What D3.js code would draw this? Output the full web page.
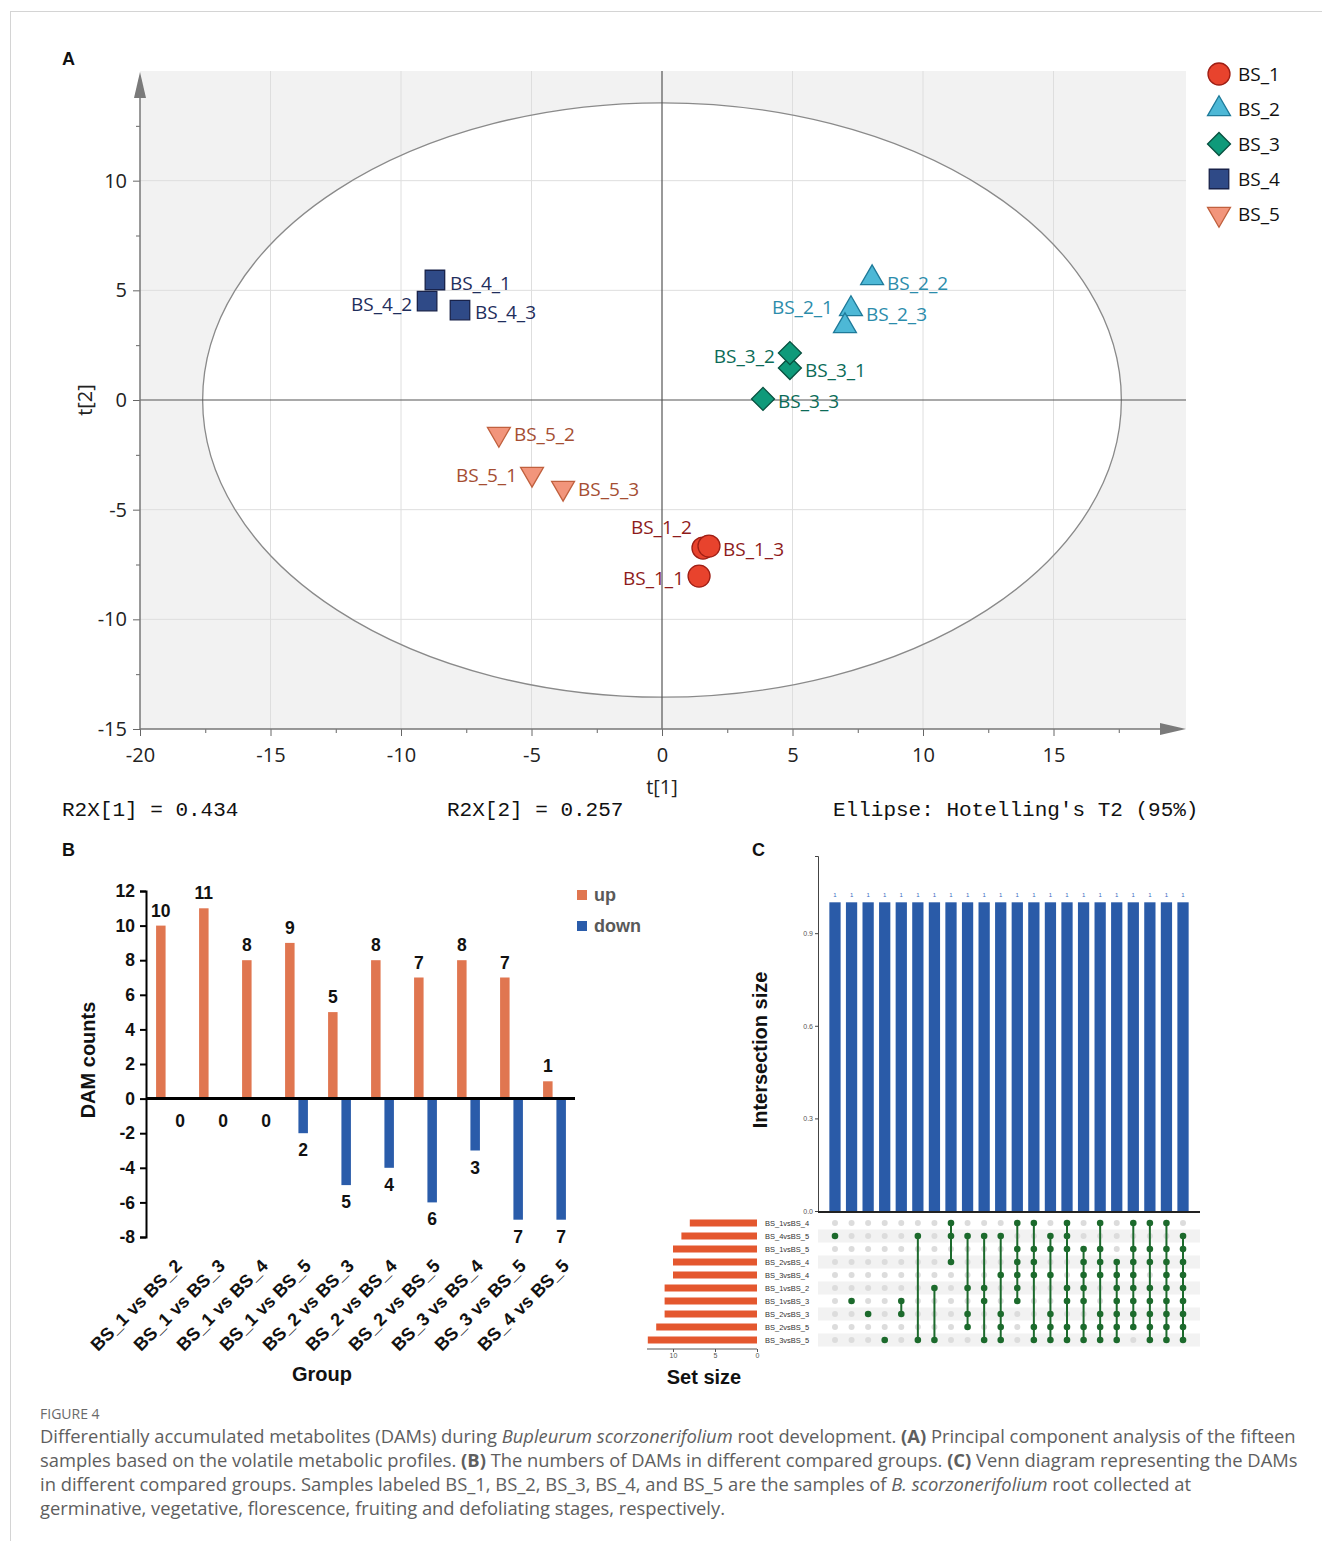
<!DOCTYPE html>
<html><head><meta charset="utf-8">
<script src="https://cdn.jsdelivr.net/npm/d3@7"></script>
<style>body{margin:0;background:#fff} svg{display:block}</style>
</head><body>
<svg id="fig" width="1322" height="1541"></svg>
<script>
// ---------- Panel A: PCA ----------
const pcaGroups = ["BS_1","BS_2","BS_3","BS_4","BS_5"];
const sampleNames = ["BS_1_1","BS_1_2","BS_1_3","BS_2_1","BS_2_2","BS_2_3","BS_3_1","BS_3_2","BS_3_3","BS_4_1","BS_4_2","BS_4_3","BS_5_1","BS_5_2","BS_5_3"];
const sampleGroups = ["BS_1","BS_1","BS_1","BS_2","BS_2","BS_2","BS_3","BS_3","BS_3","BS_4","BS_4","BS_4","BS_5","BS_5","BS_5"];
const t1Values = [1.42,1.57,1.80,7.24,8.05,7.01,4.90,4.90,3.87,-8.70,-9.00,-7.74,-4.98,-6.25,-3.79];
const t2Values = [-8.03,-6.75,-6.66,4.15,5.56,3.37,1.46,2.14,0.05,5.47,4.51,4.10,-3.37,-1.55,-4.01];
const ellipseT1 = 17.6, ellipseT2 = 13.55;
const r2x1 = "0.434", r2x2 = "0.257";
const xTicksA = [-20,-15,-10,-5,0,5,10,15];
const yTicksA = [-15,-10,-5,0,5,10];

// ---------- Panel B ----------
const comparisons = ["BS_1 vs BS_2","BS_1 vs BS_3","BS_1 vs BS_4","BS_1 vs BS_5","BS_2 vs BS_3","BS_2 vs BS_4","BS_2 vs BS_5","BS_3 vs BS_4","BS_3 vs BS_5","BS_4 vs BS_5"];
const upCounts = [10,11,8,9,5,8,7,8,7,1];
const downCounts = [0,0,0,2,5,4,6,3,7,7];
const yTicksB = [-8,-6,-4,-2,0,2,4,6,8,10,12];

// ---------- Panel C: UpSet ----------
const setNames = ["BS_1vsBS_4","BS_4vsBS_5","BS_1vsBS_5","BS_2vsBS_4","BS_3vsBS_4","BS_1vsBS_2","BS_1vsBS_3","BS_2vsBS_3","BS_2vsBS_5","BS_3vsBS_5"];
const setSizes = [8,9,10,10,10,11,11,11,12,13];
const intersectionMembers = [[1],[6],[7],[9],[6,7],[1,9],[5,9],[0,1,3],[1,5,7,8],[1,5,6,9],[1,4,7,8,9],[0,2,3,4,5,6],[0,2,3,4,8,9],[1,2,4,7,8,9],[0,1,2,5,6,8,9],[2,3,4,5,6,8,9],[0,2,3,4,7,8,9],[3,4,5,6,7,8,9],[0,2,3,4,5,6,7,8],[0,2,3,5,6,7,8,9],[0,2,3,4,5,6,7,8,9],[1,2,3,4,5,6,7,8,9]];
const intersectionSizes = [1,1,1,1,1,1,1,1,1,1,1,1,1,1,1,1,1,1,1,1,1,1];
const intersectionTicks = [0,0.3,0.6,0.9];
const setSizeTicks = [10,5,0];

// ---------- styles ----------
const groupFill = {BS_1:"#e8432d",BS_2:"#4db8d6",BS_3:"#0f9a7a",BS_4:"#2f4a87",BS_5:"#f2957b"};
const groupStroke = {BS_1:"#9e1e14",BS_2:"#1e7a99",BS_3:"#07503f",BS_4:"#18224a",BS_5:"#c0603e"};
const groupLabel = {BS_1:"#8e1b1b",BS_2:"#2b8cab",BS_3:"#0b6b57",BS_4:"#1f2e5c",BS_5:"#a54e32"};
const groupShape = {BS_1:"circle",BS_2:"tri",BS_3:"diamond",BS_4:"square",BS_5:"down"};
const labelPlace = {
 "BS_1_1":["end",-15,2],"BS_1_2":["end",-11,-21],"BS_1_3":["start",14,3],
 "BS_2_1":["end",-18,-2],"BS_2_2":["start",15,5],"BS_2_3":["start",21,-12],
 "BS_3_1":["start",15,2],"BS_3_2":["end",-15,3],"BS_3_3":["start",15,2],
 "BS_4_1":["start",15,3],"BS_4_2":["end",-15,3],"BS_4_3":["start",15,2],
 "BS_5_1":["end",-15,1],"BS_5_2":["start",15,0],"BS_5_3":["start",15,1]};

const svg = d3.select("#fig");
svg.append("rect").attr("width",1322).attr("height",1541).attr("fill","#fff");
svg.append("line").attr("x1",10).attr("x2",1322).attr("y1",11.5).attr("y2",11.5).attr("stroke","#d4d4d4");
svg.append("line").attr("x1",10.5).attr("x2",10.5).attr("y1",11).attr("y2",1541).attr("stroke","#d4d4d4");

const fSans = "'Open Sans', 'Noto Sans', sans-serif";
const fArial = "'Liberation Sans', Arial, sans-serif";

// panel letters
[["A",62,65],["B",62,856],["C",752,856]].forEach(([t,x,y])=>{
  svg.append("text").attr("x",x).attr("y",y).text(t).attr("font-family",fArial).attr("font-weight","bold").attr("font-size",18).attr("fill","#111");
});

// ===== Panel A =====
const xA = d3.scaleLinear().domain([-20,20]).range([140,1184]);
const yA = d3.scaleLinear().domain([-15,15]).range([729,71]);
const gA = svg.append("g");
gA.append("rect").attr("x",140).attr("y",71).attr("width",1046).attr("height",658).attr("fill","#f2f2f2");
gA.append("ellipse").attr("cx",xA(0)).attr("cy",yA(0)).attr("rx",xA(ellipseT1)-xA(0)).attr("ry",yA(0)-yA(ellipseT2)).attr("fill","#fff");
gA.selectAll(".vg").data([-15,-10,-5,5,10,15]).join("line").attr("x1",d=>xA(d)).attr("x2",d=>xA(d)).attr("y1",71).attr("y2",729).attr("stroke","#dedede");
gA.selectAll(".hg").data([-10,-5,5,10]).join("line").attr("y1",d=>yA(d)).attr("y2",d=>yA(d)).attr("x1",140).attr("x2",1186).attr("stroke","#dedede");
gA.append("ellipse").attr("cx",xA(0)).attr("cy",yA(0)).attr("rx",xA(ellipseT1)-xA(0)).attr("ry",yA(0)-yA(ellipseT2)).attr("fill","none").attr("stroke","#8a8a8a").attr("stroke-width",1.3);
gA.append("line").attr("x1",xA(0)).attr("x2",xA(0)).attr("y1",71).attr("y2",729).attr("stroke","#555").attr("stroke-width",1.2);
gA.append("line").attr("x1",140).attr("x2",1186).attr("y1",yA(0)).attr("y2",yA(0)).attr("stroke","#555").attr("stroke-width",1.2);

// axes
function styleAxis(g, fs){
  g.select(".domain").remove();
  g.selectAll(".tick line").attr("stroke","#666");
  g.selectAll(".tick text").attr("font-family",fSans).attr("font-size",fs).attr("fill","#222");
}
const yAx = gA.append("g").attr("transform","translate(140,0)")
  .call(d3.axisLeft(yA).tickValues(yTicksA).tickSize(7).tickPadding(6).tickFormat(d=>String(d)));
styleAxis(yAx,20);
const yAxMinor = gA.append("g").attr("transform","translate(140,0)")
  .call(d3.axisLeft(yA).tickValues(d3.range(-12.5,15,5)).tickSize(4).tickFormat(""));
styleAxis(yAxMinor,10);
const xAx = gA.append("g").attr("transform","translate(0,729)")
  .call(d3.axisBottom(xA).tickValues(xTicksA).tickSize(7).tickPadding(12).tickFormat(d=>String(d)));
styleAxis(xAx,20);
const xAxMinor = gA.append("g").attr("transform","translate(0,729)")
  .call(d3.axisBottom(xA).tickValues(d3.range(-17.5,20,5)).tickSize(4).tickFormat(""));
styleAxis(xAxMinor,10);
gA.append("line").attr("x1",140).attr("x2",140).attr("y1",729).attr("y2",90).attr("stroke","#777").attr("stroke-width",1.5);
gA.append("path").attr("d","M140,72 L134,98 L146,98 Z").attr("fill","#7a7a7a");
gA.append("line").attr("x1",140).attr("x2",1168).attr("y1",729).attr("y2",729).attr("stroke","#777").attr("stroke-width",1.5);
gA.append("path").attr("d","M1186,729 L1160,723 L1160,735 Z").attr("fill","#7a7a7a");

gA.append("text").attr("x",xA(0)).attr("y",794).attr("text-anchor","middle").text("t[1]").attr("font-family",fSans).attr("font-size",20).attr("fill","#222");
gA.append("text").attr("transform",`translate(92,${yA(0)}) rotate(-90)`).attr("text-anchor","middle").text("t[2]").attr("font-family",fSans).attr("font-size",20).attr("fill","#222");

function symPath(shape, s){
  if(shape==="circle") return d3.symbol(d3.symbolCircle, s*s*Math.PI/4)();
  if(shape==="tri" || shape==="down") return d3.symbol(d3.symbolTriangle, s*s*0.43)();
  if(shape==="diamond") return d3.symbol(d3.symbolSquare, s*s*0.5)();
  return d3.symbol(d3.symbolSquare, s*s)();
}
function symTransform(shape,x,y){
  if(shape==="down") return `translate(${x},${y}) rotate(180)`;
  if(shape==="diamond") return `translate(${x},${y}) rotate(45)`;
  return `translate(${x},${y})`;
}
const symSize = {circle:22,tri:23,diamond:23,square:19.5,down:23};

const pts = sampleNames.map((n,i)=>({name:n,g:sampleGroups[i],t1:t1Values[i],t2:t2Values[i]}));
gA.selectAll(".pt").data(pts).join("path")
  .attr("d",d=>symPath(groupShape[d.g],symSize[groupShape[d.g]]))
  .attr("transform",d=>symTransform(groupShape[d.g],xA(d.t1),yA(d.t2)))
  .attr("fill",d=>groupFill[d.g]).attr("stroke",d=>groupStroke[d.g]).attr("stroke-width",1.3);
gA.selectAll(".pl").data(pts).join("text")
  .attr("x",d=>xA(d.t1)+labelPlace[d.name][1]).attr("y",d=>yA(d.t2)+labelPlace[d.name][2])
  .attr("dominant-baseline","central").attr("text-anchor",d=>labelPlace[d.name][0])
  .attr("font-family",fSans).attr("font-size",19).attr("fill",d=>groupLabel[d.g]).text(d=>d.name);

// legend
const legA = gA.append("g");
pcaGroups.forEach((g,i)=>{
  const y = 74 + 35*i;
  const sh = groupShape[g];
  legA.append("path").attr("d",symPath(sh,symSize[sh])).attr("transform",symTransform(sh,1219,y))
    .attr("fill",groupFill[g]).attr("stroke",groupStroke[g]).attr("stroke-width",1.3);
  legA.append("text").attr("x",1238).attr("y",y).attr("dominant-baseline","central").text(g)
    .attr("font-family",fSans).attr("font-size",19).attr("fill","#111");
});

// statistics text
const fMono = "'Liberation Mono','DejaVu Sans Mono',monospace";
[[62,`R2X[1] = ${r2x1}`],[447,`R2X[2] = ${r2x2}`],[833,"Ellipse: Hotelling's T2 (95%)"]].forEach(([x,t])=>{
  svg.append("text").attr("x",x).attr("y",816).text(t).attr("font-family",fMono).attr("font-size",21).attr("fill","#111").style("white-space","pre");
});

// ===== Panel B =====
const gB = svg.append("g");
const xB = d3.scaleBand().domain(comparisons).range([145.5,575.5]);
const subB = d3.scaleBand().domain(["up","down"]).range([10,34]).paddingInner(0.2);
const yB = d3.scaleLinear().domain([-8,12]).range([1237,891]);
const upColor = "#e07650", downColor = "#2a5caa";
const barW = 9.5;
const bData = comparisons.map((c,i)=>({c,up:upCounts[i],down:downCounts[i]}));
const cx = (c,k)=> xB(c)+subB(k)+subB.bandwidth()/2;
gB.selectAll(".ub").data(bData).join("rect")
  .attr("x",d=>cx(d.c,"up")-barW/2).attr("width",barW)
  .attr("y",d=>yB(d.up)).attr("height",d=>yB(0)-yB(d.up)).attr("fill",upColor);
gB.selectAll(".db").data(bData).join("rect")
  .attr("x",d=>cx(d.c,"down")-barW/2).attr("width",barW)
  .attr("y",yB(0)).attr("height",d=>yB(-d.down)-yB(0)).attr("fill",downColor);
gB.append("line").attr("x1",146).attr("x2",575).attr("y1",yB(0)).attr("y2",yB(0)).attr("stroke","#000").attr("stroke-width",3);
const yBx = gB.append("g").attr("transform","translate(146,0)")
  .call(d3.axisLeft(yB).tickValues(yTicksB).tickSize(6).tickPadding(5).tickFormat(d=>String(d)));
yBx.select(".domain").attr("stroke","#000").attr("stroke-width",2);
yBx.selectAll(".tick line").attr("stroke","#000").attr("stroke-width",2);
yBx.selectAll(".tick text").attr("font-family",fArial).attr("font-weight","bold").attr("font-size",17.5).attr("fill","#111");
gB.selectAll(".ul").data(bData).join("text")
  .attr("x",d=>cx(d.c,"up")).attr("y",d=>yB(d.up)-9).attr("text-anchor","middle")
  .attr("font-family",fArial).attr("font-weight","bold").attr("font-size",17.5).attr("fill","#111").text(d=>d.up);
gB.selectAll(".dl").data(bData).join("text")
  .attr("x",d=>cx(d.c,"down")+(d.down===0?6:0)).attr("y",d=>yB(-d.down)+(d.down===0?28:23)).attr("text-anchor","middle")
  .attr("font-family",fArial).attr("font-weight","bold").attr("font-size",17.5).attr("fill","#111").text(d=>d.down);
gB.selectAll(".xl").data(comparisons).join("text")
  .attr("transform",d=>`translate(${xB(d)+xB.bandwidth()/2+16},1267) rotate(-45)`)
  .attr("text-anchor","end").attr("font-family",fArial).attr("font-weight","bold").attr("font-size",18).attr("fill","#111").text(d=>d);
gB.append("text").attr("x",322).attr("y",1381).attr("text-anchor","middle").text("Group")
  .attr("font-family",fArial).attr("font-weight","bold").attr("font-size",20).attr("fill","#111");
gB.append("text").attr("transform","translate(95,1060) rotate(-90)").attr("text-anchor","middle").text("DAM counts")
  .attr("font-family",fArial).attr("font-weight","bold").attr("font-size",20).attr("fill","#111");
[["up",upColor,895],["down",downColor,926]].forEach(([t,c,y])=>{
  gB.append("rect").attr("x",577).attr("y",y-5).attr("width",10).attr("height",10).attr("fill",c);
  gB.append("text").attr("x",594).attr("y",y).attr("dominant-baseline","central").text(t)
    .attr("font-family",fArial).attr("font-weight","bold").attr("font-size",18).attr("fill","#595959");
});

// ===== Panel C =====
const gC = svg.append("g");
const xC = d3.scaleBand().domain(d3.range(intersectionSizes.length)).range([826.7,1191.3]).paddingInner(0.32).paddingOuter(0.16);
const yC = d3.scaleLinear().domain([0,1.15]).range([1211,856]);
const rowC = d3.scaleBand().domain(setNames).range([1216.5,1346.5]);
const xS = d3.scaleLinear().domain([0,10]).range([757,673]);
const setColor = "#e4572e", interColor = "#2a5ba8", dotColor = "#1c6a2c";

// row shading
gC.selectAll(".rs").data(setNames.filter((d,i)=>i%2===1)).join("rect")
  .attr("x",818).attr("width",382).attr("y",d=>rowC(d)).attr("height",rowC.bandwidth()).attr("fill","#f2f2f2");
// intersection bars
gC.selectAll(".ib").data(intersectionSizes).join("rect")
  .attr("x",(d,i)=>xC(i)).attr("width",xC.bandwidth()).attr("y",d=>yC(d)).attr("height",d=>yC(0)-yC(d)).attr("fill",interColor);
gC.selectAll(".il").data(intersectionSizes).join("text")
  .attr("x",(d,i)=>xC(i)+xC.bandwidth()/2).attr("y",d=>yC(d)-5).attr("text-anchor","middle")
  .attr("font-family",fArial).attr("font-size",6).attr("fill","#3a6abf").text(d=>d);
const yCx = gC.append("g").attr("transform","translate(818,0)")
  .call(d3.axisLeft(yC).tickValues(intersectionTicks).tickSize(3).tickPadding(2).tickFormat(d3.format(".1f")));
yCx.select(".domain").attr("stroke","#444").attr("stroke-width",1);
yCx.selectAll(".tick line").attr("stroke","#444");
yCx.selectAll(".tick text").attr("font-family",fArial).attr("font-size",7).attr("fill","#555");
gC.append("line").attr("x1",818).attr("x2",1200).attr("y1",1212).attr("y2",1212).attr("stroke","#222").attr("stroke-width",2);
gC.append("text").attr("transform","translate(767,1050) rotate(-90)").attr("text-anchor","middle").text("Intersection size")
  .attr("font-family",fArial).attr("font-weight","bold").attr("font-size",20).attr("fill","#111");

// matrix
const cells = [];
intersectionMembers.forEach((m,i)=>setNames.forEach((s,j)=>cells.push({i,j,on:m.includes(j)})));
gC.selectAll(".ed").data(cells.filter(c=>!c.on)).join("circle")
  .attr("cx",d=>xC(d.i)+xC.bandwidth()/2).attr("cy",d=>rowC(setNames[d.j])+rowC.bandwidth()/2).attr("r",3).attr("fill","#dcdcdc");
gC.selectAll(".cl").data(intersectionMembers.filter(m=>m.length>1).map(m=>({m,i:intersectionMembers.indexOf(m)}))).join("line")
  .attr("x1",d=>xC(d.i)+xC.bandwidth()/2).attr("x2",d=>xC(d.i)+xC.bandwidth()/2)
  .attr("y1",d=>rowC(setNames[d3.min(d.m)])+rowC.bandwidth()/2).attr("y2",d=>rowC(setNames[d3.max(d.m)])+rowC.bandwidth()/2)
  .attr("stroke",dotColor).attr("stroke-width",2);
gC.selectAll(".fd").data(cells.filter(c=>c.on)).join("circle")
  .attr("cx",d=>xC(d.i)+xC.bandwidth()/2).attr("cy",d=>rowC(setNames[d.j])+rowC.bandwidth()/2).attr("r",3.3).attr("fill",dotColor);

// set sizes
gC.selectAll(".sb").data(setNames).join("rect")
  .attr("x",(d,i)=>xS(setSizes[i])).attr("width",(d,i)=>xS(0)-xS(setSizes[i]))
  .attr("y",d=>rowC(d)+3).attr("height",rowC.bandwidth()-6).attr("fill",setColor);
gC.selectAll(".sl").data(setNames).join("text")
  .attr("x",765).attr("y",d=>rowC(d)+rowC.bandwidth()/2).attr("dominant-baseline","central")
  .attr("font-family",fArial).attr("font-size",7.5).attr("fill","#333").text(d=>d);
const xSx = gC.append("g").attr("transform","translate(0,1349)")
  .call(d3.axisBottom(xS).tickValues(setSizeTicks).tickSize(3).tickPadding(1).tickFormat(d=>String(d)));
xSx.select(".domain").attr("stroke","#555").attr("d","M647,0H757");
xSx.selectAll(".tick line").attr("stroke","#555");
xSx.selectAll(".tick text").attr("font-family",fArial).attr("font-size",7).attr("fill","#555");
gC.append("text").attr("x",704).attr("y",1384).attr("text-anchor","middle").text("Set size")
  .attr("font-family",fArial).attr("font-weight","bold").attr("font-size",20).attr("fill","#111");

// ===== Caption =====
svg.append("text").attr("x",40).attr("y",1419).text("FIGURE 4").attr("font-family",fSans).attr("font-size",14).attr("fill","#6a6a6a");
const captionLines = [
 [["Differentially accumulated metabolites (DAMs) during ",""],["Bupleurum scorzonerifolium","i"],[" root development. ",""],["(A)","b"],[" Principal component analysis of the fifteen",""]],
 [["samples based on the volatile metabolic profiles. ",""],["(B)","b"],[" The numbers of DAMs in different compared groups. ",""],["(C)","b"],[" Venn diagram representing the DAMs",""]],
 [["in different compared groups. Samples labeled BS_1, BS_2, BS_3, BS_4, and BS_5 are the samples of ",""],["B. scorzonerifolium","i"],[" root collected at",""]],
 [["germinative, vegetative, florescence, fruiting and defoliating stages, respectively.",""]]
];
const capTexts = captionLines.map((segs,li)=>{
  const t = svg.append("text").attr("x",40).attr("y",1443+24*li).attr("font-family",fSans).attr("font-size",17).attr("fill","#5e5e5e").style("white-space","pre");
  segs.forEach(([s,st])=>{
    const ts = t.append("tspan").text(s);
    if(st==="i") ts.attr("font-style","italic");
    if(st==="b") ts.attr("font-weight","bold");
  });
  return t;
});
const w0 = capTexts[0].node().getComputedTextLength();
if(w0>0){ const fs = 17*1256/w0; capTexts.forEach(t=>t.attr("font-size",fs)); }
</script>
</body></html>
